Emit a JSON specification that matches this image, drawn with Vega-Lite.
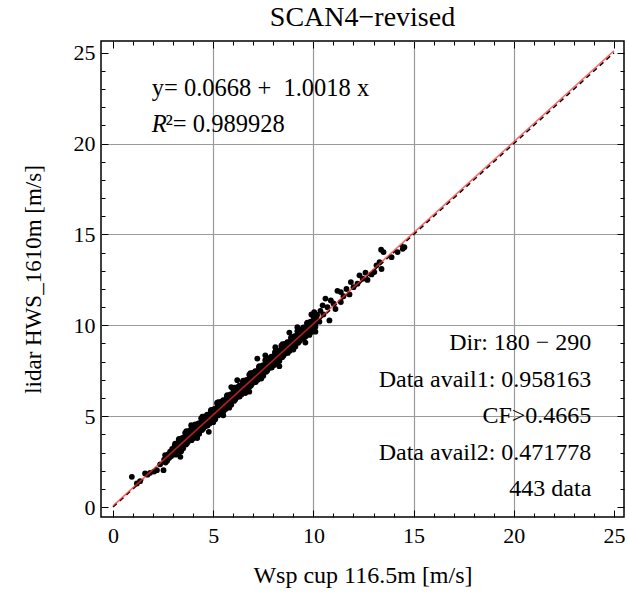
{
"$schema": "https://vega.github.io/schema/vega-lite/v6.json",
"autosize": "none",
"padding": {"left": 101, "top": 41, "right": 6, "bottom": 76},
"width": 523,
"height": 476,
"background": "white",
"title": {"text": "SCAN4−revised", "font": "Liberation Serif", "fontSize": 28, "fontWeight": "normal", "color": "black", "offset": 9, "anchor": "middle"},
"config": {"view": {"stroke": "black", "strokeWidth": 1.5}, "font": "Liberation Serif"},
"datasets": {
"pts": [
{"x":0.94,"y":1.66},{"x":1.19,"y":1.30},{"x":1.35,"y":1.42},{"x":1.6,"y":1.85},{"x":1.72,"y":1.78},{"x":1.85,"y":1.88},{"x":2.05,"y":1.95},{"x":2.19,"y":2.03},{"x":2.35,"y":2.35},{"x":2.52,"y":2.03},{"x":2.55,"y":2.6},{"x":2.6,"y":2.86},{"x":2.62,"y":2.45},{"x":2.7,"y":2.55},{"x":2.75,"y":2.9},{"x":2.8,"y":2.7},{"x":2.85,"y":3.05},{"x":2.9,"y":2.8},{"x":2.95,"y":3.2},{"x":3.0,"y":2.95},
{"x":3.02,"y":3.21},{"x":3.06,"y":2.95},{"x":3.10,"y":3.48},{"x":3.14,"y":3.14},{"x":3.18,"y":3.47},{"x":3.22,"y":3.00},{"x":3.26,"y":3.37},{"x":3.30,"y":3.75},{"x":3.34,"y":3.20},{"x":3.38,"y":3.60},{"x":3.42,"y":3.47},{"x":3.46,"y":3.80},{"x":3.50,"y":3.23},{"x":3.54,"y":3.70},{"x":3.58,"y":3.84},{"x":3.62,"y":3.57},{"x":3.66,"y":4.17},{"x":3.70,"y":3.52},{"x":3.74,"y":3.82},{"x":3.78,"y":4.18},
{"x":3.82,"y":4.01},{"x":3.86,"y":3.75},{"x":3.90,"y":4.28},{"x":3.94,"y":3.94},{"x":3.98,"y":4.27},{"x":4.02,"y":3.80},{"x":4.06,"y":4.17},{"x":4.10,"y":4.55},{"x":4.14,"y":4.00},{"x":4.18,"y":4.40},{"x":4.22,"y":4.27},{"x":4.26,"y":4.60},{"x":4.30,"y":4.03},{"x":4.34,"y":4.50},{"x":4.38,"y":4.64},{"x":4.42,"y":4.37},{"x":4.46,"y":4.97},{"x":4.50,"y":4.32},{"x":4.54,"y":4.62},{"x":4.58,"y":4.98},
{"x":4.62,"y":4.81},{"x":4.66,"y":4.55},{"x":4.70,"y":5.08},{"x":4.74,"y":4.74},{"x":4.78,"y":5.07},{"x":4.82,"y":4.60},{"x":4.86,"y":4.97},{"x":4.90,"y":5.35},{"x":4.94,"y":4.80},{"x":4.98,"y":5.20},{"x":5.02,"y":5.07},{"x":5.06,"y":5.40},{"x":5.10,"y":4.83},{"x":5.14,"y":5.30},{"x":5.18,"y":5.44},{"x":5.22,"y":5.17},{"x":5.26,"y":5.77},{"x":5.30,"y":5.12},{"x":5.34,"y":5.42},{"x":5.38,"y":5.78},
{"x":5.42,"y":5.61},{"x":5.46,"y":5.35},{"x":5.50,"y":5.88},{"x":5.54,"y":5.54},{"x":5.58,"y":5.87},{"x":5.62,"y":5.40},{"x":5.66,"y":5.77},{"x":5.70,"y":6.15},{"x":5.74,"y":5.60},{"x":5.78,"y":6.00},{"x":5.82,"y":5.87},{"x":5.86,"y":6.20},{"x":5.90,"y":5.63},{"x":5.94,"y":6.10},{"x":5.98,"y":6.24},{"x":6.02,"y":5.97},{"x":6.06,"y":6.57},{"x":6.10,"y":5.92},{"x":6.14,"y":6.22},{"x":6.18,"y":6.58},
{"x":6.22,"y":6.41},{"x":6.26,"y":6.15},{"x":6.30,"y":6.68},{"x":6.34,"y":6.34},{"x":6.38,"y":6.67},{"x":6.42,"y":6.20},{"x":6.46,"y":6.57},{"x":6.50,"y":6.95},{"x":6.54,"y":6.40},{"x":6.58,"y":6.80},{"x":6.62,"y":6.67},{"x":6.66,"y":7.00},{"x":6.70,"y":6.43},{"x":6.74,"y":6.90},{"x":6.78,"y":7.04},{"x":6.82,"y":6.77},{"x":6.86,"y":7.37},{"x":6.90,"y":6.72},{"x":6.94,"y":7.02},{"x":6.98,"y":7.38},
{"x":7.02,"y":7.21},{"x":7.06,"y":6.95},{"x":7.10,"y":7.48},{"x":7.14,"y":7.14},{"x":7.18,"y":7.47},{"x":7.22,"y":7.00},{"x":7.26,"y":7.37},{"x":7.30,"y":7.75},{"x":7.34,"y":7.20},{"x":7.38,"y":7.60},{"x":7.42,"y":7.47},{"x":7.46,"y":7.80},{"x":7.50,"y":7.23},{"x":7.54,"y":7.70},{"x":7.58,"y":7.84},{"x":7.62,"y":7.57},{"x":7.66,"y":8.17},{"x":7.70,"y":7.52},{"x":7.74,"y":7.82},{"x":7.78,"y":8.18},
{"x":7.82,"y":8.01},{"x":7.86,"y":7.75},{"x":7.90,"y":8.28},{"x":7.94,"y":7.94},{"x":7.98,"y":8.27},{"x":8.02,"y":7.80},{"x":8.06,"y":8.17},{"x":8.10,"y":8.55},{"x":8.14,"y":8.00},{"x":8.18,"y":8.40},{"x":8.22,"y":8.27},{"x":8.26,"y":8.60},{"x":8.30,"y":8.03},{"x":8.34,"y":8.50},{"x":8.38,"y":8.64},{"x":8.42,"y":8.37},{"x":8.46,"y":8.97},{"x":8.50,"y":8.32},{"x":8.54,"y":8.62},{"x":8.58,"y":8.98},
{"x":8.62,"y":8.81},{"x":8.66,"y":8.55},{"x":8.70,"y":9.08},{"x":8.74,"y":8.74},{"x":8.78,"y":9.07},{"x":8.82,"y":8.60},{"x":8.86,"y":8.97},{"x":8.90,"y":9.35},{"x":8.94,"y":8.80},{"x":8.98,"y":9.20},{"x":9.02,"y":9.07},{"x":9.06,"y":9.40},{"x":9.10,"y":8.83},{"x":9.14,"y":9.30},{"x":9.18,"y":9.44},{"x":9.22,"y":9.17},{"x":9.26,"y":9.77},{"x":9.30,"y":9.12},{"x":9.34,"y":9.42},{"x":9.38,"y":9.78},
{"x":9.42,"y":9.61},{"x":9.46,"y":9.35},{"x":9.50,"y":9.88},{"x":9.54,"y":9.54},{"x":9.58,"y":9.87},{"x":9.62,"y":9.40},{"x":9.66,"y":9.77},{"x":9.70,"y":10.15},{"x":9.74,"y":9.60},{"x":9.78,"y":10.00},{"x":9.82,"y":9.87},{"x":9.86,"y":10.20},{"x":9.90,"y":9.63},{"x":9.94,"y":10.10},{"x":9.98,"y":10.24},{"x":10.02,"y":9.97},{"x":10.06,"y":10.57},{"x":10.10,"y":9.92},{"x":10.14,"y":10.22},{"x":10.18,"y":10.58},
{"x":3.04,"y":3.06},{"x":3.08,"y":3.39},{"x":3.12,"y":2.88},{"x":3.16,"y":3.39},{"x":3.20,"y":3.33},{"x":3.24,"y":3.12},{"x":3.28,"y":3.70},{"x":3.32,"y":3.30},{"x":3.36,"y":3.71},{"x":3.40,"y":3.07},{"x":3.44,"y":3.62},{"x":3.48,"y":3.75},{"x":3.52,"y":3.45},{"x":3.56,"y":3.66},{"x":3.60,"y":4.08},{"x":3.64,"y":3.44},{"x":3.68,"y":3.88},{"x":3.72,"y":3.76},{"x":3.76,"y":4.13},{"x":3.80,"y":3.65},
{"x":3.84,"y":3.86},{"x":3.88,"y":4.19},{"x":3.92,"y":3.68},{"x":3.96,"y":4.19},{"x":4.00,"y":4.13},{"x":4.04,"y":3.92},{"x":4.08,"y":4.50},{"x":4.12,"y":4.10},{"x":4.16,"y":4.51},{"x":4.20,"y":3.87},{"x":4.24,"y":4.42},{"x":4.28,"y":4.55},{"x":4.32,"y":4.25},{"x":4.36,"y":4.46},{"x":4.40,"y":4.88},{"x":4.44,"y":4.24},{"x":4.48,"y":4.68},{"x":4.52,"y":4.56},{"x":4.56,"y":4.93},{"x":4.60,"y":4.45},
{"x":4.64,"y":4.66},{"x":4.68,"y":4.99},{"x":4.72,"y":4.48},{"x":4.76,"y":4.99},{"x":4.80,"y":4.93},{"x":4.84,"y":4.72},{"x":4.88,"y":5.30},{"x":4.92,"y":4.90},{"x":4.96,"y":5.31},{"x":5.00,"y":4.67},{"x":5.04,"y":5.22},{"x":5.08,"y":5.35},{"x":5.12,"y":5.05},{"x":5.16,"y":5.26},{"x":5.20,"y":5.68},{"x":5.24,"y":5.04},{"x":5.28,"y":5.48},{"x":5.32,"y":5.36},{"x":5.36,"y":5.73},{"x":5.40,"y":5.25},
{"x":5.44,"y":5.46},{"x":5.48,"y":5.79},{"x":5.52,"y":5.28},{"x":5.56,"y":5.79},{"x":5.60,"y":5.73},{"x":5.64,"y":5.52},{"x":5.68,"y":6.10},{"x":5.72,"y":5.70},{"x":5.76,"y":6.11},{"x":5.80,"y":5.47},{"x":5.84,"y":6.02},{"x":5.88,"y":6.15},{"x":5.92,"y":5.85},{"x":5.96,"y":6.06},{"x":6.00,"y":6.48},{"x":6.04,"y":5.84},{"x":6.08,"y":6.28},{"x":6.12,"y":6.16},{"x":6.16,"y":6.53},{"x":6.20,"y":6.05},
{"x":6.24,"y":6.26},{"x":6.28,"y":6.59},{"x":6.32,"y":6.08},{"x":6.36,"y":6.59},{"x":6.40,"y":6.53},{"x":6.44,"y":6.32},{"x":6.48,"y":6.90},{"x":6.52,"y":6.50},{"x":6.56,"y":6.91},{"x":6.60,"y":6.27},{"x":6.64,"y":6.82},{"x":6.68,"y":6.95},{"x":6.72,"y":6.65},{"x":6.76,"y":6.86},{"x":6.80,"y":7.28},{"x":6.84,"y":6.64},{"x":6.88,"y":7.08},{"x":6.92,"y":6.96},{"x":6.96,"y":7.33},{"x":7.00,"y":6.85},
{"x":7.04,"y":7.06},{"x":7.08,"y":7.39},{"x":7.12,"y":6.88},{"x":7.16,"y":7.39},{"x":7.20,"y":7.33},{"x":7.24,"y":7.12},{"x":7.28,"y":7.70},{"x":7.32,"y":7.30},{"x":7.36,"y":7.71},{"x":7.40,"y":7.07},{"x":7.44,"y":7.62},{"x":7.48,"y":7.75},{"x":7.52,"y":7.45},{"x":7.56,"y":7.66},{"x":7.60,"y":8.08},{"x":7.64,"y":7.44},{"x":7.68,"y":7.88},{"x":7.72,"y":7.76},{"x":7.76,"y":8.13},{"x":7.80,"y":7.65},
{"x":7.84,"y":7.86},{"x":7.88,"y":8.19},{"x":7.92,"y":7.68},{"x":7.96,"y":8.19},{"x":8.00,"y":8.13},{"x":8.04,"y":7.92},{"x":8.08,"y":8.50},{"x":8.12,"y":8.10},{"x":8.16,"y":8.51},{"x":8.20,"y":7.87},{"x":8.24,"y":8.42},{"x":8.28,"y":8.55},{"x":8.32,"y":8.25},{"x":8.36,"y":8.46},{"x":8.40,"y":8.88},{"x":8.44,"y":8.24},{"x":8.48,"y":8.68},{"x":8.52,"y":8.56},{"x":8.56,"y":8.93},{"x":8.60,"y":8.45},
{"x":8.64,"y":8.66},{"x":8.68,"y":8.99},{"x":8.72,"y":8.48},{"x":8.76,"y":8.99},{"x":8.80,"y":8.93},{"x":8.84,"y":8.72},{"x":8.88,"y":9.30},{"x":8.92,"y":8.90},{"x":8.96,"y":9.31},{"x":9.00,"y":8.67},{"x":9.04,"y":9.22},{"x":9.08,"y":9.35},{"x":9.12,"y":9.05},{"x":9.16,"y":9.26},{"x":9.20,"y":9.68},{"x":9.24,"y":9.04},{"x":9.28,"y":9.48},{"x":9.32,"y":9.36},{"x":9.36,"y":9.73},{"x":9.40,"y":9.25},
{"x":9.44,"y":9.46},{"x":9.48,"y":9.79},{"x":9.52,"y":9.28},{"x":9.56,"y":9.79},{"x":9.60,"y":9.73},{"x":9.64,"y":9.52},{"x":9.68,"y":10.10},{"x":9.72,"y":9.70},{"x":9.76,"y":10.11},{"x":9.80,"y":9.47},{"x":9.84,"y":10.02},{"x":9.88,"y":10.15},{"x":9.92,"y":9.85},{"x":9.96,"y":10.06},{"x":10.00,"y":10.48},{"x":10.04,"y":9.84},{"x":10.08,"y":10.28},{"x":10.12,"y":10.16},{"x":10.16,"y":10.53},{"x":10.20,"y":10.25},
{"x":4.78,"y":4.14},{"x":6.2,"y":6.98},{"x":7.2,"y":8.17},{"x":9.2,"y":9.9},{"x":5.5,"y":5.05},{"x":8.3,"y":7.75},{"x":6.8,"y":6.35},{"x":9.6,"y":9.05},{"x":3.36,"y":2.76},{"x":4.2,"y":3.8},{"x":7.6,"y":8.35},{"x":8.8,"y":9.6},{"x":5.9,"y":6.6},{"x":9.9,"y":10.6},{"x":10.1,"y":9.65},{"x":8.1,"y":8.8},{"x":3.9,"y":4.5},{"x":5.2,"y":5.75},
{"x":10.3,"y":10.2},{"x":10.46,"y":11.1},{"x":10.6,"y":11.47},{"x":10.8,"y":10.27},{"x":10.87,"y":11.37},{"x":10.04,"y":10.73},{"x":10.35,"y":10.8},{"x":10.5,"y":10.6},{"x":10.7,"y":11.0},{"x":11.0,"y":11.2},{"x":11.1,"y":10.9},{"x":11.2,"y":11.9},{"x":11.37,"y":11.83},{"x":11.37,"y":11.28},{"x":11.5,"y":11.6},{"x":11.65,"y":12.0},{"x":11.87,"y":12.38},{"x":12.0,"y":12.1},{"x":12.2,"y":12.29},{"x":12.3,"y":12.75},{"x":12.46,"y":12.57},{"x":12.6,"y":12.9},{"x":12.9,"y":12.8},{"x":13.04,"y":12.93},{"x":13.15,"y":13.3},{"x":13.3,"y":13.48},{"x":13.4,"y":13.1},{"x":13.38,"y":14.16},{"x":13.5,"y":14.03},{"x":13.9,"y":13.75},{"x":14.2,"y":14.03},{"x":14.46,"y":14.21},{"x":14.54,"y":14.3},{"x":12.7,"y":12.5},{"x":11.8,"y":11.7}
],
"fit": [{"x": 0, "y": 0.0668}, {"x": 25, "y": 25.1118}],
"one": [{"x": 0, "y": 0}, {"x": 25, "y": 25}],
"leftnotes": [{"x": 1.93, "y": 23, "t": "y= 0.0668 + \u00a01.0018 x"}, {"x": 2.62, "y": 21, "t": "²= 0.989928"}],
"rnote": [{"x": 1.93, "y": 21, "t": "R"}],
"rightnotes": [{"x": 23.87, "y": 9, "t": "Dir: 180 − 290"}, {"x": 23.87, "y": 7, "t": "Data avail1: 0.958163"}, {"x": 23.87, "y": 5, "t": "CF>0.4665"}, {"x": 23.87, "y": 3, "t": "Data avail2: 0.471778"}, {"x": 23.87, "y": 1, "t": "443 data"}]
},
"resolve": {"scale": {"x": "shared", "y": "shared"}, "axis": {"x": "independent", "y": "independent"}},
"layer": [
{
"data": {"name": "pts"},
"mark": {"type": "circle", "size": 34, "color": "black", "opacity": 1},
"encoding": {
"x": {"field": "x", "type": "quantitative", "scale": {"domain": [-0.6, 25.5], "nice": false, "zero": false},
"axis": {"orient": "top", "values": [0,1,2,3,4,5,6,7,8,9,10,11,12,13,14,15,16,17,18,19,20,21,22,23,24,25], "labels": false, "domain": false, "grid": false, "ticks": true, "tickColor": "black", "tickWidth": 1, "tickSize": {"condition": {"test": "datum.value % 5 == 0", "value": -7}, "value": -4}, "title": null}},
"y": {"field": "y", "type": "quantitative", "scale": {"domain": [-0.55, 25.65], "nice": false, "zero": false},
"axis": {"orient": "right", "values": [0,1,2,3,4,5,6,7,8,9,10,11,12,13,14,15,16,17,18,19,20,21,22,23,24,25], "labels": false, "domain": false, "grid": false, "ticks": true, "tickColor": "black", "tickWidth": 1, "tickSize": {"condition": {"test": "datum.value % 5 == 0", "value": -7}, "value": -4}, "title": null}}
}
},
{
"data": {"name": "one"},
"mark": {"type": "line", "color": "black", "strokeWidth": 1.5, "strokeDash": [5, 4]},
"encoding": {
"x": {"field": "x", "type": "quantitative", "scale": {"domain": [-0.6, 25.5], "nice": false, "zero": false},
"axis": {"orient": "bottom", "values": [0,1,2,3,4,5,6,7,8,9,10,11,12,13,14,15,16,17,18,19,20,21,22,23,24,25], "labels": false, "domain": false, "grid": false, "ticks": true, "tickColor": "black", "tickWidth": 1, "tickSize": {"condition": {"test": "datum.value % 5 == 0", "value": -7}, "value": -4}, "title": null}},
"y": {"field": "y", "type": "quantitative", "scale": {"domain": [-0.55, 25.65], "nice": false, "zero": false},
"axis": {"orient": "left", "values": [0,1,2,3,4,5,6,7,8,9,10,11,12,13,14,15,16,17,18,19,20,21,22,23,24,25], "labels": false, "domain": false, "grid": false, "ticks": true, "tickColor": "black", "tickWidth": 1, "tickSize": {"condition": {"test": "datum.value % 5 == 0", "value": -7}, "value": -4}, "title": null}}
}
},
{
"data": {"name": "fit"},
"mark": {"type": "line", "color": "#ff2a2a", "opacity": 0.72, "strokeWidth": 1.6},
"encoding": {
"x": {"field": "x", "type": "quantitative", "scale": {"domain": [-0.6, 25.5], "nice": false, "zero": false},
"axis": {"orient": "bottom", "values": [0,5,10,15,20,25], "ticks": false, "domain": false, "labelFlush": false, "labelFont": "Liberation Serif", "labelFontSize": 22, "labelColor": "black", "labelPadding": 8, "grid": true, "gridColor": {"condition": {"test": "datum.value == 0 || datum.value == 25", "value": "transparent"}, "value": "#9a9a9a"}, "gridWidth": 1.2, "title": "Wsp cup 116.5m [m/s]", "titleFont": "Liberation Serif", "titleFontSize": 24, "titleFontWeight": "normal", "titleColor": "black", "titlePadding": 17}},
"y": {"field": "y", "type": "quantitative", "scale": {"domain": [-0.55, 25.65], "nice": false, "zero": false},
"axis": {"orient": "left", "values": [0,5,10,15,20,25], "ticks": false, "domain": false, "labelFlush": false, "labelFont": "Liberation Serif", "labelFontSize": 22, "labelColor": "black", "labelPadding": 6, "grid": true, "gridColor": {"condition": {"test": "datum.value == 0 || datum.value == 25", "value": "transparent"}, "value": "#9a9a9a"}, "gridWidth": 1.2, "title": "lidar HWS_1610m [m/s]", "titleFont": "Liberation Serif", "titleFontSize": 23, "titleFontWeight": "normal", "titleColor": "black", "titlePadding": 28}}
}
},
{
"data": {"name": "leftnotes"},
"mark": {"type": "text", "align": "left", "baseline": "middle", "font": "Liberation Serif", "fontSize": 24.5, "color": "black"},
"encoding": {
"x": {"field": "x", "type": "quantitative", "scale": {"domain": [-0.6, 25.5], "nice": false, "zero": false}, "axis": null},
"y": {"field": "y", "type": "quantitative", "scale": {"domain": [-0.55, 25.65], "nice": false, "zero": false}, "axis": null},
"text": {"field": "t"}
}
},
{
"data": {"name": "rnote"},
"mark": {"type": "text", "align": "left", "baseline": "middle", "font": "Liberation Serif", "fontSize": 24.5, "fontStyle": "italic", "color": "black"},
"encoding": {
"x": {"field": "x", "type": "quantitative", "scale": {"domain": [-0.6, 25.5], "nice": false, "zero": false}, "axis": null},
"y": {"field": "y", "type": "quantitative", "scale": {"domain": [-0.55, 25.65], "nice": false, "zero": false}, "axis": null},
"text": {"field": "t"}
}
},
{
"data": {"name": "rightnotes"},
"mark": {"type": "text", "align": "right", "baseline": "middle", "font": "Liberation Serif", "fontSize": 24, "color": "black"},
"encoding": {
"x": {"field": "x", "type": "quantitative", "scale": {"domain": [-0.6, 25.5], "nice": false, "zero": false}, "axis": null},
"y": {"field": "y", "type": "quantitative", "scale": {"domain": [-0.55, 25.65], "nice": false, "zero": false}, "axis": null},
"text": {"field": "t"}
}
}
]
}
